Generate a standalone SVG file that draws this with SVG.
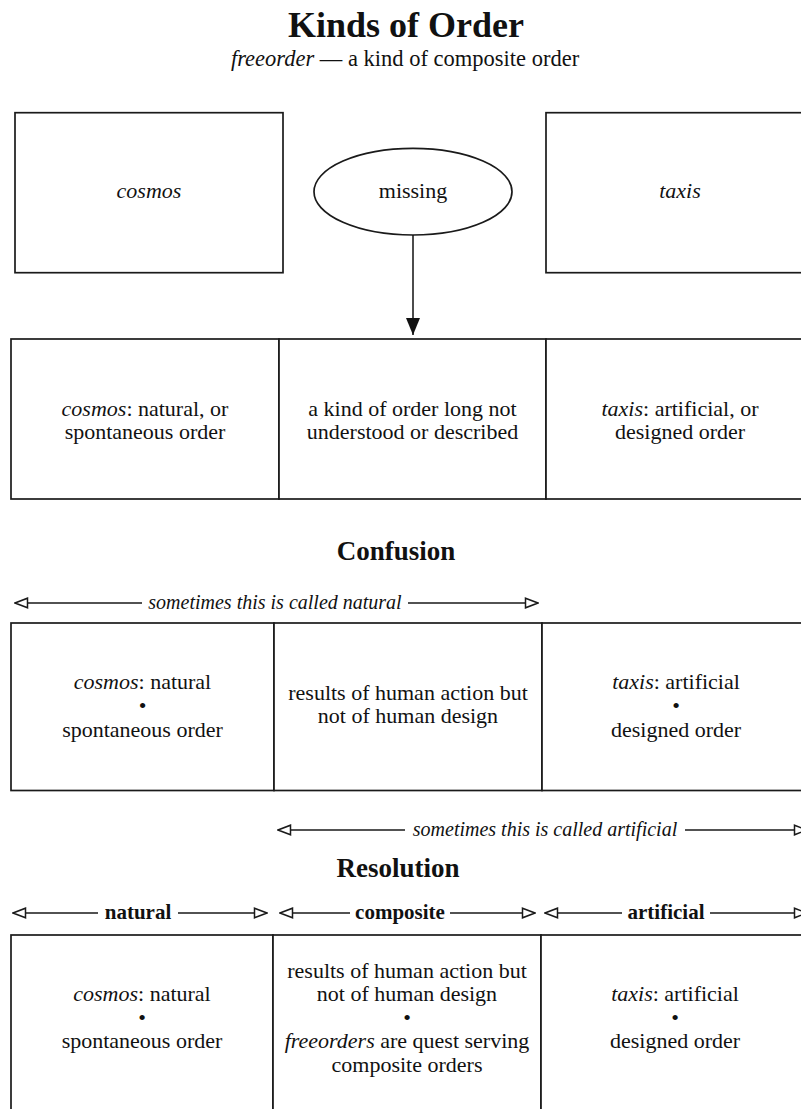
<svg xmlns="http://www.w3.org/2000/svg" width="801" height="1109" viewBox="0 0 801 1109">
<defs>
<style>
text{font-family:"Liberation Serif","DejaVu Serif",serif;fill:#111;}
.t{font-size:22px;text-anchor:middle;}
.i{font-style:italic;}
.h1{font-size:36px;font-weight:bold;text-anchor:middle;}
.h2{font-size:27px;font-weight:bold;text-anchor:middle;}
.lab{font-size:20px;font-style:italic;text-anchor:middle;}
.bl{font-size:21px;font-weight:bold;text-anchor:middle;}
.box{fill:#fff;stroke:#1a1a1a;stroke-width:1.7;}
.dim{fill:none;stroke:#1a1a1a;stroke-width:1.5;marker-start:url(#open);marker-end:url(#open);}
.edge{fill:none;stroke:#111;stroke-width:1.5;marker-end:url(#solid);}
</style>
<marker id="open" viewBox="0 0 15 12" refX="14" refY="6" markerWidth="15" markerHeight="12" markerUnits="userSpaceOnUse" orient="auto-start-reverse"><path d="M1.5,1.2 L14,6 L1.5,10.8 Z" fill="#fff" stroke="#1a1a1a" stroke-width="1.5"/></marker>
<marker id="solid" viewBox="0 0 17 14" refX="17" refY="7" markerWidth="17" markerHeight="14" markerUnits="userSpaceOnUse" orient="auto"><path d="M0,0 L17,7 L0,14 Z" fill="#111"/></marker>
</defs>
<rect width="801" height="1109" fill="#fff"/>

<g id="title">
<text class="h1" x="406" y="37">Kinds of Order</text>
<text class="t" x="405" y="66" style="font-size:22.5px"><tspan class="i">freeorder</tspan> — a kind of composite order</text>
</g>

<g id="node-cosmos">
<rect class="box" x="15" y="112.7" width="268" height="160"/>
<text class="t i" x="149" y="198">cosmos</text>
</g>
<g id="node-missing">
<ellipse class="box" cx="413" cy="191.7" rx="99" ry="43.3"/>
<text class="t" x="413" y="198">missing</text>
</g>
<g id="node-taxis">
<rect class="box" x="546" y="112.7" width="268" height="160"/>
<text class="t i" x="680" y="198">taxis</text>
</g>

<g id="row1-cosmos">
<rect class="box" x="11" y="339" width="268" height="160"/>
<text class="t" x="145" y="416"><tspan class="i">cosmos</tspan>: natural, or</text>
<text class="t" x="145" y="439">spontaneous order</text>
</g>
<g id="row1-missing">
<rect class="box" x="279" y="339" width="267" height="160"/>
<text class="t" x="412.5" y="416">a kind of order long not</text>
<text class="t" x="412.5" y="439">understood or described</text>
</g>
<g id="row1-taxis">
<rect class="box" x="546" y="339" width="268" height="160"/>
<text class="t" x="680" y="416"><tspan class="i">taxis</tspan>: artificial, or</text>
<text class="t" x="680" y="439">designed order</text>
</g>

<g id="connectors">
<path class="edge" d="M413,235 L413,335"/>
</g>

<g id="heading-confusion">
<text class="h2" x="396" y="560">Confusion</text>
</g>

<g id="span-natural">
<path class="dim" d="M15,603 H142 M408,603 H538"/>
<text class="lab" x="275" y="609">sometimes this is called natural</text>
</g>

<g id="row2-cosmos">
<rect class="box" x="11" y="623" width="263" height="167.5"/>
<text class="t" x="142.5" y="689"><tspan class="i">cosmos</tspan>: natural</text>
<text class="t" x="142.5" y="713">•</text>
<text class="t" x="142.5" y="737">spontaneous order</text>
</g>
<g id="row2-middle">
<rect class="box" x="274" y="623" width="268" height="167.5"/>
<text class="t" x="408" y="700">results of human action but</text>
<text class="t" x="408" y="723">not of human design</text>
</g>
<g id="row2-taxis">
<rect class="box" x="542" y="623" width="268" height="167.5"/>
<text class="t" x="676" y="689"><tspan class="i">taxis</tspan>: artificial</text>
<text class="t" x="676" y="713">•</text>
<text class="t" x="676" y="737">designed order</text>
</g>

<g id="span-artificial">
<path class="dim" d="M278,830 H405 M685,830 H807"/>
<text class="lab" x="545" y="836">sometimes this is called artificial</text>
</g>

<g id="heading-resolution">
<text class="h2" x="398" y="877">Resolution</text>
</g>

<g id="span-natural-res">
<path class="dim" d="M13,913 H98 M178,913 H267"/>
<text class="bl" x="138" y="919">natural</text>
</g>
<g id="span-composite-res">
<path class="dim" d="M280,913 H350 M450,913 H535"/>
<text class="bl" x="400" y="919">composite</text>
</g>
<g id="span-artificial-res">
<path class="dim" d="M545,913 H622 M710,913 H807"/>
<text class="bl" x="666" y="919">artificial</text>
</g>

<g id="row3-cosmos">
<rect class="box" x="11" y="935" width="262" height="190"/>
<text class="t" x="142" y="1001"><tspan class="i">cosmos</tspan>: natural</text>
<text class="t" x="142" y="1024.5">•</text>
<text class="t" x="142" y="1048">spontaneous order</text>
</g>
<g id="row3-composite">
<rect class="box" x="273" y="935" width="268" height="190"/>
<text class="t" x="407" y="978">results of human action but</text>
<text class="t" x="407" y="1001">not of human design</text>
<text class="t" x="407" y="1024.5">•</text>
<text class="t" x="407" y="1048"><tspan class="i">freeorders</tspan> are quest serving</text>
<text class="t" x="407" y="1072">composite orders</text>
</g>
<g id="row3-taxis">
<rect class="box" x="541" y="935" width="268" height="190"/>
<text class="t" x="675" y="1001"><tspan class="i">taxis</tspan>: artificial</text>
<text class="t" x="675" y="1024.5">•</text>
<text class="t" x="675" y="1048">designed order</text>
</g>
</svg>
